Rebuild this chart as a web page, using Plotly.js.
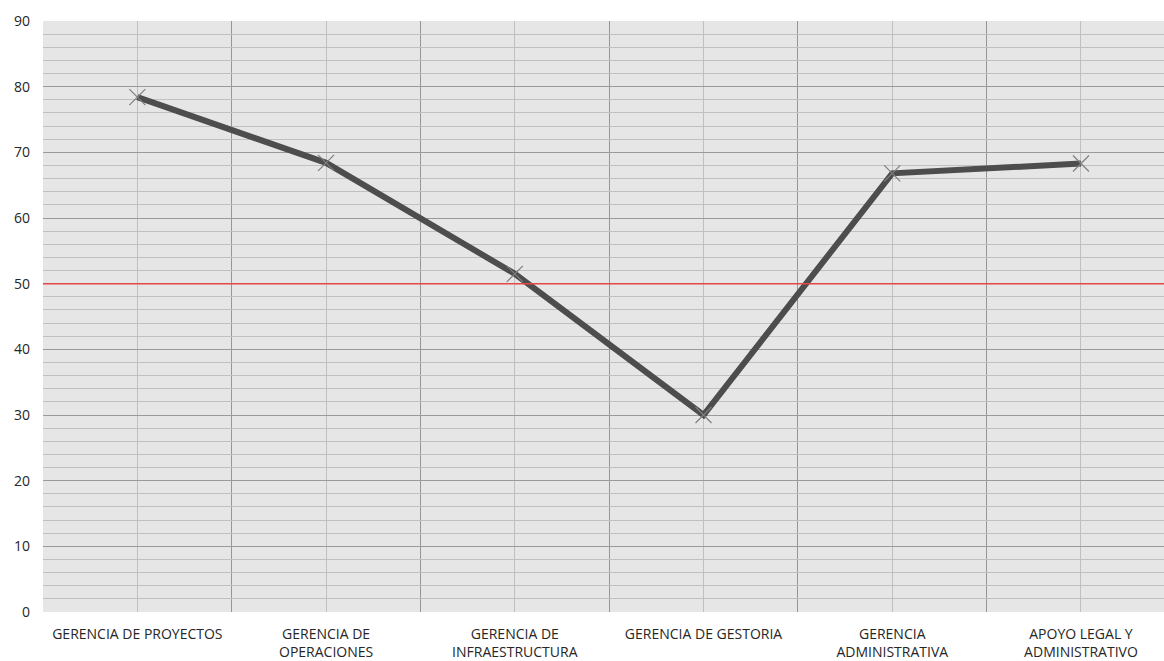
<!DOCTYPE html>
<html>
<head>
<meta charset="utf-8">
<script src="https://cdn.plot.ly/plotly-3.0.1.min.js"></script>
<style>html,body{margin:0;padding:0;background:#fff;}#chart{width:1164px;height:661px;}</style>
</head>
<body>
<div id="chart"></div>
<script>
var categories = ["GERENCIA DE PROYECTOS", "GERENCIA DE<br>OPERACIONES", "GERENCIA DE<br>INFRAESTRUCTURA", "GERENCIA DE GESTORIA", "GERENCIA<br>ADMINISTRATIVA", "APOYO LEGAL Y<br>ADMINISTRATIVO"];
var values = [78.4, 68.4, 51.5, 30.0, 66.8, 68.3];
var target = 50;
var yTicks = [0, 10, 20, 30, 40, 50, 60, 70, 80, 90];

var idx = categories.map(function(_, i){ return i; });
var bounds = [];
for (var i = 0; i <= categories.length; i++) bounds.push(i - 0.5);

var trace = {
  x: idx, y: values, type: 'scatter', mode: 'lines+markers',
  line: {color: '#4d4d4d', width: 6},
  marker: {symbol: 'x-thin', size: 16, color: '#7f7f7f', line: {color: '#7f7f7f', width: 1.2}},
  hoverinfo: 'y', showlegend: false
};

var layout = {
  width: 1164, height: 661,
  margin: {l: 43, r: 0, t: 21, b: 49, pad: 0},
  paper_bgcolor: '#ffffff', plot_bgcolor: '#e6e6e6',
  font: {family: 'Open Sans, Noto Sans, sans-serif', size: 12, color: '#262626'},
  xaxis: {
    type: 'linear', range: [-0.5, 5.44], fixedrange: true,
    tickmode: 'array', tickvals: idx, ticktext: categories,
    showgrid: true, gridcolor: '#c0c0c0', gridwidth: 1,
    minor: {tickmode: 'array', tickvals: bounds, showgrid: true, gridcolor: '#969696', gridwidth: 1, ticklen: 0},
    zeroline: false, showline: false, ticks: '', ticklen: 0,
    tickfont: {size: 14, color: '#262626'}, ticklabelstandoff: 12
  },
  yaxis: {
    range: [0, 90], fixedrange: true,
    tickmode: 'array', tickvals: yTicks,
    showgrid: true, gridcolor: '#9a9a9a', gridwidth: 1,
    minor: {dtick: 2, showgrid: true, gridcolor: '#c0c0c0', gridwidth: 1, ticklen: 0},
    zeroline: false, showline: false, ticks: '', ticklen: 0,
    tickfont: {size: 14, color: '#262626'}, ticklabelstandoff: 12
  },
  shapes: [{
    type: 'line', xref: 'paper', x0: 0, x1: 1, yref: 'y', y0: target, y1: target,
    line: {color: '#e84545', width: 1.5}, layer: 'above'
  }]
};

Plotly.newPlot('chart', [trace], layout, {displayModeBar: false, staticPlot: true});
</script>
</body>
</html>
